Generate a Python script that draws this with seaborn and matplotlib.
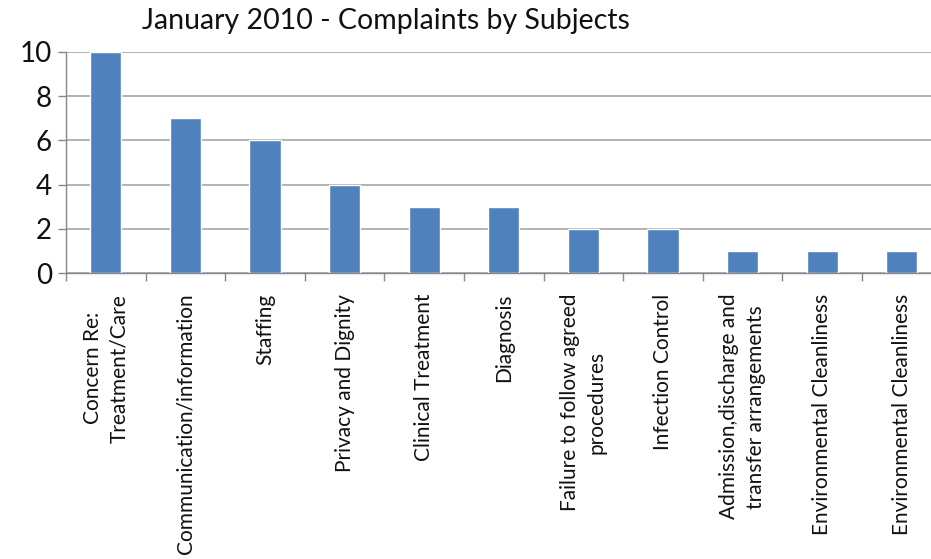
import matplotlib
matplotlib.use("Agg")
import matplotlib.pyplot as plt
import seaborn as sns
import pandas as pd
import numpy as np

subjects = [
    "Concern Re:\nTreatment/Care",
    "Communication/information",
    "Staffing",
    "Privacy and Dignity",
    "Clinical Treatment",
    "Diagnosis",
    "Failure to follow agreed\nprocedures",
    "Infection Control",
    "Admission,discharge and\ntransfer arrangements",
    "Environmental Cleanliness",
    "Environmental Cleanliness",
]
complaints = [10, 7, 6, 4, 3, 3, 2, 2, 1, 1, 1]
y_ticks = [0, 2, 4, 6, 8, 10]

sns.set_theme(style="white")
plt.rcParams["font.family"] = ["Lato", "DejaVu Sans"]

df = pd.DataFrame({"idx": np.arange(len(subjects)), "count": complaints})

fig = plt.figure(figsize=(9.31, 5.59), dpi=100)
ax = fig.add_axes([0.0709, 0.5116, 0.9405, 0.3954])

sns.barplot(data=df, x="idx", y="count", color="#4F81BD", saturation=1,
            width=0.39, ax=ax, zorder=3)

ax.set_ylim(0, 10)
ax.set_xlim(-0.5, len(subjects) - 0.5)
ax.set_yticks(y_ticks)
ax.set_yticklabels([str(v) for v in y_ticks], fontsize=20, color="#111111")
ax.yaxis.grid(True, color="#a6a6a6", linewidth=1.2, zorder=0)
ax.set_axisbelow(True)

ax.set_xticks(np.arange(len(subjects)))
ax.set_xticklabels(subjects, rotation=90, fontsize=15, ha="center", va="top",
                   multialignment="center", linespacing=1.4, color="#111111")
ax.set_xticks(np.arange(len(subjects) + 1) - 0.5, minor=True)
ax.tick_params(axis="x", which="major", length=0, pad=15)
ax.tick_params(axis="x", which="minor", length=6, width=1, color="#888888",
               direction="out", bottom=True)
ax.tick_params(axis="y", length=6, width=1, color="#888888", direction="out",
               left=True, pad=4)

for side in ["top", "right"]:
    ax.spines[side].set_visible(False)
for side in ["left", "bottom"]:
    ax.spines[side].set_color("#888888")
    ax.spines[side].set_linewidth(1)

ax.set_xlabel("")
ax.set_ylabel("")
fig.text(0.415, 0.962, "January 2010 - Complaints by Subjects", fontsize=20.5,
         ha="center", va="center", color="#111111")

fig.savefig("out.png", dpi=100)
